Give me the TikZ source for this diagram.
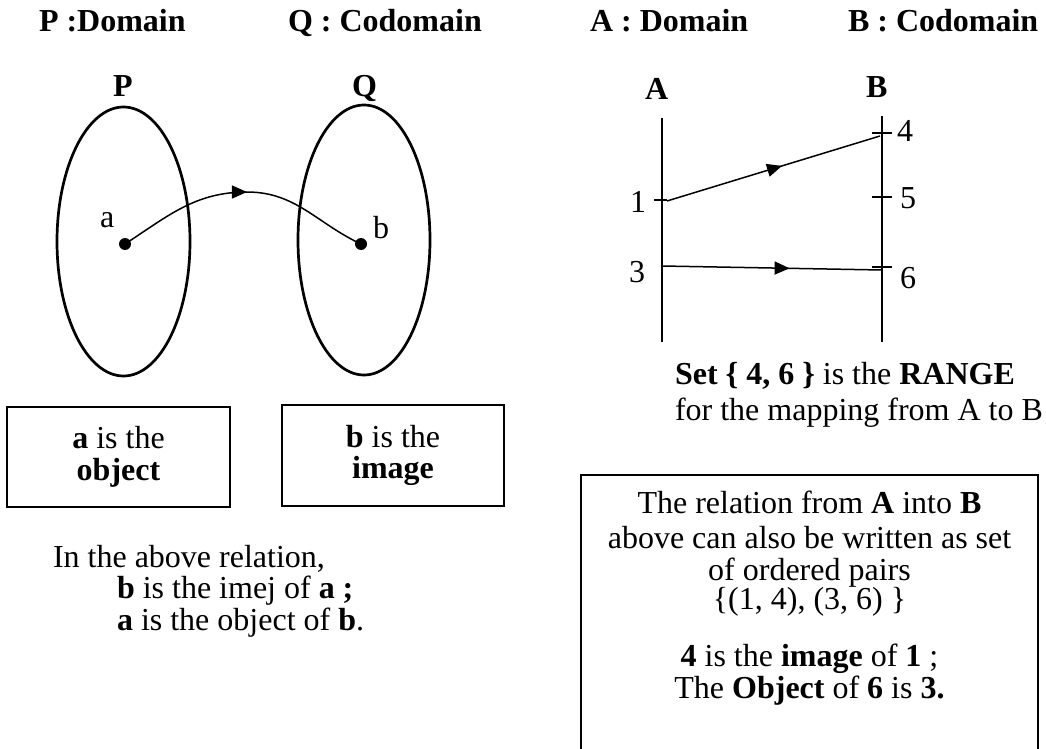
\documentclass[tikz,border=0pt]{standalone}
\usepackage{fontspec}
\setmainfont{Liberation Serif}
\usetikzlibrary{arrows.meta,decorations.markings}
\tikzset{
  txt/.style={anchor=base west, inner sep=0pt, outer sep=0pt},
  ctxt/.style={anchor=base, inner sep=0pt, outer sep=0pt},
  dotnode/.style={circle, fill=black, inner sep=0pt, minimum size=12pt},
  setline/.style={line width=2.7pt},
  axisline/.style={line width=2.8pt},
  conn/.style={line width=1.5pt},
  tickline/.style={line width=1.2pt},
  textbox/.style={draw, line width=1.6pt, inner sep=0pt, align=center},
  midarrow/.style={postaction={decorate}, decoration={markings,
     mark=at position #1 with {\arrow{Triangle[length=15pt,width=13pt]}}}}
}
\begin{document}
\begin{tikzpicture}[x=1pt,y=-1pt,font=\fontsize{32}{31.5}\selectfont]
\useasboundingbox (0,0) rectangle (1046,749);

% titles
\node[txt] (tP) at (39,32) {\textbf{P :Domain}};
\node[txt] (tQ) at (288,32) {\textbf{Q : Codomain}};
\node[txt] (tA) at (590,32) {\textbf{A : Domain}};
\node[txt] (tB) at (848,32) {\textbf{B : Codomain}};

% left diagram
\node[txt] (lP) at (113,97) {\textbf{P}};
\node[txt] (lQ) at (352,97) {\textbf{Q}};
\draw[setline] (123.5,241.5) ellipse [x radius=66.5pt, y radius=134.5pt];
\draw[setline] (364,240) ellipse [x radius=66pt, y radius=135pt];
\node[dotnode] (a) at (125,244) {};
\node[dotnode] (b) at (361,244) {};
\node[txt] (la) at (100,227) {a};
\node[txt] (lb) at (373,238) {b};
\coordinate (pk) at (247,192);
\draw[conn, midarrow=0.515] (a.center) to[out=33,in=180] (pk) to[out=0,in=155] (b.center);

% boxes
\node[textbox, minimum width=223pt, minimum height=100pt] (box1) at (118.5,457)
  {\textbf{a} is the\\\textbf{object}};
\node[textbox, minimum width=222pt, minimum height=101pt] (box2) at (393,455.5)
  {\textbf{b} is the\\\textbf{image}};

\node[txt] (r1) at (53,567) {In the above relation,};
\node[txt] (r2) at (117,598) {\textbf{b} is the imej of \textbf{a ;}};
\node[txt] (r3) at (117,630) {\textbf{a} is the object of \textbf{b}.};

% right diagram
\node[txt] (lA) at (645,100) {\textbf{A}};
\node[txt] (lB) at (866,98) {\textbf{B}};
\coordinate (Atop) at (662,118);
\coordinate (Abot) at (662,342);
\coordinate (Btop) at (882,116);
\coordinate (Bbot) at (882,342);
\draw[axisline] (Atop) -- (Abot);
\draw[axisline] (Btop) -- (Bbot);

\coordinate (t1a) at (654,200); \coordinate (t1b) at (667,200);
\coordinate (t4a) at (872,133); \coordinate (t4b) at (892,133);
\coordinate (t5a) at (872,197); \coordinate (t5b) at (892,197);
\coordinate (t6a) at (872,267); \coordinate (t6b) at (892,267);
\draw[tickline] (t1a) -- (t1b);
\draw[tickline] (t4a) -- (t4b);
\draw[tickline] (t5a) -- (t5b);
\draw[tickline] (t6a) -- (t6b);

\node[txt] (n1) at (630,212) {1};
\node[txt] (n3) at (629,282) {3};
\node[txt] (n4) at (897,142) {4};
\node[txt] (n5) at (900,208) {5};
\node[txt] (n6) at (900,288) {6};

\coordinate (p1) at (667,201);
\coordinate (q4) at (880,136);
\coordinate (p3) at (662,266);
\coordinate (q6) at (882,270);
\draw[conn, midarrow=0.54] (p1) -- (q4);
\draw[conn, midarrow=0.58] (p3) -- (q6);

\node[txt] (rng1) at (675,384) {\textbf{Set \{ 4, 6 \}} is the \textbf{RANGE}};
\node[txt] (rng2) at (675,420) {for the mapping from A to B};

% relation box
\coordinate (bl) at (581,752);
\coordinate (br) at (1038,752);
\draw[line width=1.6pt] (bl) |- (1038,475) -- (br);
\node[ctxt] (b1) at (809.5,513) {The relation from \textbf{A} into \textbf{B}};
\node[ctxt] (b2) at (809.5,548) {above can also be written as set};
\node[ctxt] (b3) at (809.5,580) {of ordered pairs};
\node[ctxt] (b4) at (809.5,609) {\{(1, 4), (3, 6) \}};
\node[ctxt] (b5) at (809.5,666) {\textbf{4} is the \textbf{image} of \textbf{1} ;};
\node[ctxt] (b6) at (809.5,698) {The \textbf{Object} of \textbf{6} is \textbf{3.}};
\end{tikzpicture}
\end{document}
